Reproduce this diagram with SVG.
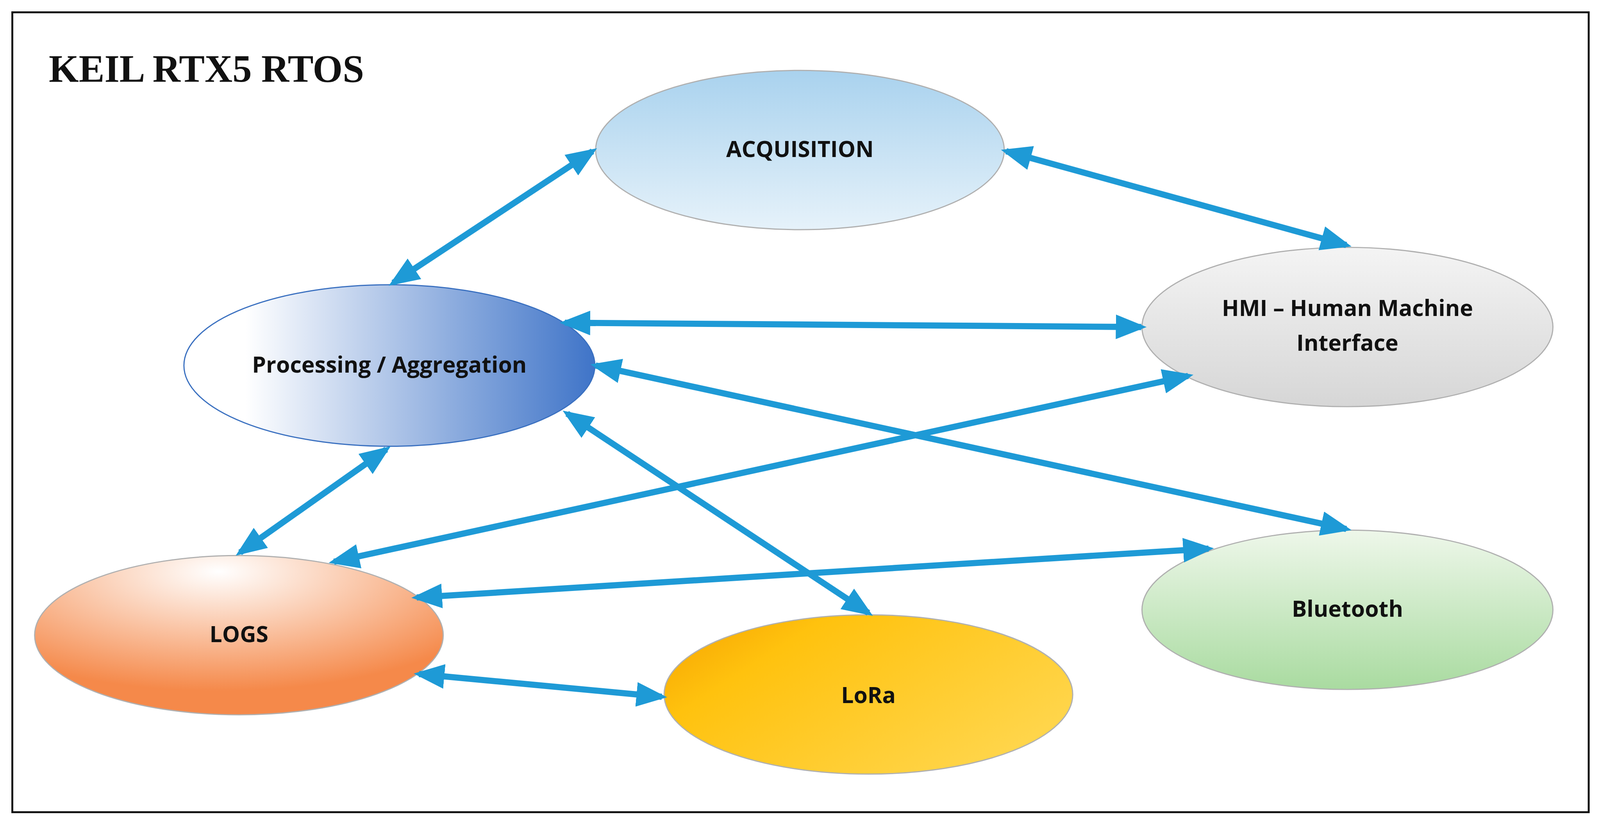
<svg xmlns="http://www.w3.org/2000/svg" width="4163" height="2148" viewBox="0 0 4163 2148">
<defs>
<linearGradient id="gAcq" x1="0" y1="0" x2="0" y2="1"><stop offset="0" stop-color="#a9d2ee"/><stop offset="1" stop-color="#e6f2fa"/></linearGradient>
<linearGradient id="gProc" x1="0" y1="0" x2="1" y2="0"><stop offset="0.15" stop-color="#ffffff"/><stop offset="1" stop-color="#3f74c8"/></linearGradient>
<linearGradient id="gHmi" x1="0" y1="0" x2="0" y2="1"><stop offset="0" stop-color="#f4f4f4"/><stop offset="1" stop-color="#d6d6d6"/></linearGradient>
<radialGradient id="gLogs" cx="0.45" cy="0.1" r="0.75"><stop offset="0" stop-color="#ffffff"/><stop offset="1" stop-color="#f5894a"/></radialGradient>
<linearGradient id="gLora" x1="0" y1="0" x2="1" y2="0.6"><stop offset="0" stop-color="#f5a100"/><stop offset="0.3" stop-color="#ffc20e"/><stop offset="1" stop-color="#ffd54a"/></linearGradient>
<linearGradient id="gBt" x1="0" y1="0" x2="0" y2="1"><stop offset="0" stop-color="#eef7ea"/><stop offset="1" stop-color="#a9dba0"/></linearGradient>
<marker id="ah" markerUnits="userSpaceOnUse" markerWidth="80" markerHeight="64" refX="66" refY="32" orient="auto-start-reverse"><path d="M0,0 L80,32 L0,64 Z" fill="#1e9ad6"/></marker>
<style>
.n{stroke:#b0b0b0;stroke-width:3}
.t{font-family:"Open Sans","Liberation Sans",sans-serif;font-weight:bold;font-size:58px;fill:#111;text-anchor:middle;dominant-baseline:middle}
.c line{stroke:#1e9ad6;stroke-width:16;marker-start:url(#ah);marker-end:url(#ah)}
</style>
</defs>
<rect x="0" y="0" width="4163" height="2148" fill="#fff"/>
<g transform="scale(0.985)">
<rect x="32" y="32" width="4097" height="2079" fill="#fff" stroke="#111" stroke-width="5"/>
<text x="127" y="212" font-family="Liberation Serif,serif" font-weight="bold" font-size="100" fill="#111">KEIL RTX5 RTOS</text>
<g id="acq"><ellipse class="n" cx="2079" cy="390" rx="531" ry="207" fill="url(#gAcq)"/><text class="t" x="2079" y="393">ACQUISITION</text></g>
<g id="proc"><ellipse cx="1012" cy="950" rx="534" ry="210" fill="url(#gProc)" stroke="#3a70c0" stroke-width="3"/><text class="t" x="1012" y="953">Processing / Aggregation</text></g>
<g id="hmi"><ellipse class="n" cx="3502" cy="850" rx="534" ry="207" fill="url(#gHmi)"/><text class="t" x="3502" y="806">HMI – Human Machine</text><text class="t" x="3502" y="896">Interface</text></g>
<g id="logs"><ellipse class="n" cx="621" cy="1651" rx="531" ry="207" fill="url(#gLogs)"/><text class="t" x="621" y="1654">LOGS</text></g>
<g id="lora"><ellipse class="n" cx="2257" cy="1805" rx="531" ry="207" fill="url(#gLora)"/><text class="t" x="2257" y="1812" font-size="92">LoRa</text></g>
<g id="bt"><ellipse class="n" cx="3502" cy="1585" rx="534" ry="207" fill="url(#gBt)"/><text class="t" x="3502" y="1588">Bluetooth</text></g>
<g id="connectors" class="c">
<line x1="1540" y1="393" x2="1022" y2="735"/>
<line x1="2615" y1="393" x2="3499" y2="637"/>
<line x1="1468" y1="839" x2="2966" y2="850"/>
<line x1="1548" y1="950" x2="3499" y2="1375"/>
<line x1="1474" y1="1075" x2="2257" y2="1593"/>
<line x1="1004" y1="1168" x2="624" y2="1436"/>
<line x1="3088" y1="977" x2="868" y2="1460"/>
<line x1="3141" y1="1426" x2="1083" y2="1553"/>
<line x1="1089" y1="1752" x2="1720" y2="1811"/>
</g>
</g>
</svg>
